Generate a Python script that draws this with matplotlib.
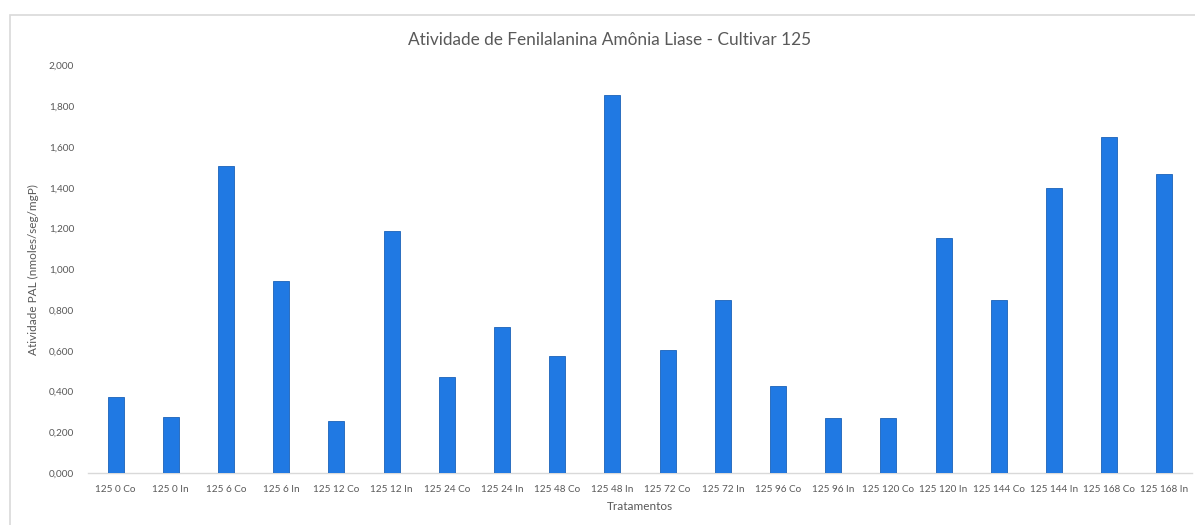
import matplotlib
matplotlib.use("Agg")
import matplotlib.pyplot as plt
from matplotlib.patches import Rectangle

# Treatments (cultivar 125, hours after treatment, control/inoculated)
categories = [
    "125 0 Co", "125 0 In", "125 6 Co", "125 6 In", "125 12 Co", "125 12 In",
    "125 24 Co", "125 24 In", "125 48 Co", "125 48 In", "125 72 Co", "125 72 In",
    "125 96 Co", "125 96 In", "125 120 Co", "125 120 In", "125 144 Co",
    "125 144 In", "125 168 Co", "125 168 In",
]
# PAL activity (nmoles/seg/mgP)
pal_activity = [
    0.375, 0.277, 1.507, 0.940, 0.256, 1.186,
    0.473, 0.717, 0.575, 1.854, 0.604, 0.847,
    0.429, 0.272, 0.272, 1.153, 0.847,
    1.399, 1.650, 1.469,
]
y_ticks = [0.0, 0.2, 0.4, 0.6, 0.8, 1.0, 1.2, 1.4, 1.6, 1.8, 2.0]

plt.rcParams["font.family"] = ["Lato", "DejaVu Sans"]
text_color = "#595959"
bar_color = "#2079E3"

W, H = 1195, 525
fig = plt.figure(figsize=(W / 100, H / 100), dpi=100)
fig.patch.set_facecolor("white")

# chart frame
fig.add_artist(Rectangle((10 / W, -0.05), 1.2, 1 - 15 / H + 0.05,
                         transform=fig.transFigure, fill=False,
                         edgecolor="#d9d9d9", linewidth=1.2))

ax = fig.add_axes([88 / W, 1 - 473 / H, (1192 - 88) / W, (473 - 65.5) / H])
x = range(len(categories))
ax.bar(x, pal_activity, width=0.29, color=bar_color,
       edgecolor="#1a62b8", linewidth=0.6, zorder=3)

ax.set_xlim(-0.5, len(categories) - 0.5)
ax.set_ylim(0, 2.0)
ax.set_yticks(y_ticks)
ax.set_yticklabels([f"{v:.3f}".replace(".", ",") for v in y_ticks])
ax.set_xticks(list(x))
ax.set_xticklabels(categories)

for s in ("top", "right", "left"):
    ax.spines[s].set_visible(False)
ax.spines["bottom"].set_color("#d9d9d9")
ax.spines["bottom"].set_linewidth(1.0)
ax.tick_params(axis="both", length=0, colors=text_color, labelsize=7.2)
ax.tick_params(axis="x", pad=9)
ax.tick_params(axis="y", pad=10)

ax.set_ylabel("Atividade PAL (nmoles/seg/mgP)", color=text_color, fontsize=8.5,
              labelpad=7)
ax.set_xlabel("Tratamentos", color=text_color, fontsize=8.5, labelpad=5)

fig.text(610 / W, 1 - 40 / H, "Atividade de Fenilalanina Amônia Liase - Cultivar 125",
         ha="center", va="center", color=text_color, fontsize=12.4)

fig.savefig("out.png", dpi=100, facecolor="white")
